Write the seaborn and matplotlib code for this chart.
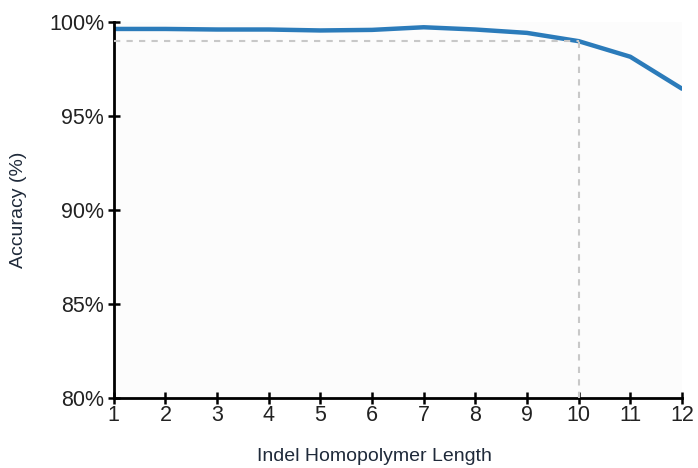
import matplotlib
matplotlib.use('Agg')
import matplotlib.pyplot as plt
import seaborn as sns
import pandas as pd
from matplotlib.ticker import FuncFormatter

# Indel homopolymer length vs accuracy
lengths = [1, 2, 3, 4, 5, 6, 7, 8, 9, 10, 11, 12]
accuracy = [99.63, 99.63, 99.6, 99.6, 99.55, 99.58, 99.72, 99.6, 99.42, 98.98, 98.15, 96.45]
threshold_len = 10
threshold_acc = 99.0

df = pd.DataFrame({'length': lengths, 'accuracy': accuracy})

sns.set_style('white')
plt.rcParams['font.family'] = ['Liberation Sans', 'DejaVu Sans']

fig = plt.figure(figsize=(6.98, 4.68), dpi=100)
ax = fig.add_axes([0.163, 0.150, 0.814, 0.803])
ax.set_facecolor('#fcfcfc')

sns.lineplot(data=df, x='length', y='accuracy', color='#2b7bba', linewidth=3.2, ax=ax)

# reference lines at 99% / length 10
ax.plot([lengths[0], threshold_len], [threshold_acc, threshold_acc], linestyle=(0, (3, 3)),
        color='#c8c8c8', linewidth=1.5, zorder=3)
ax.plot([threshold_len, threshold_len], [80, threshold_acc], linestyle=(0, (3, 3)),
        color='#c8c8c8', linewidth=1.5, zorder=3)

ax.set_xlim(1, 12)
ax.set_ylim(80, 100)
ax.set_xticks(lengths)
ax.set_yticks([80, 85, 90, 95, 100])
ax.yaxis.set_major_formatter(FuncFormatter(lambda v, p: f'{v:.0f}%'))

for s in ['top', 'right']:
    ax.spines[s].set_visible(False)
for s in ['left', 'bottom']:
    ax.spines[s].set_color('black')
    ax.spines[s].set_linewidth(2)

ax.tick_params(axis='both', bottom=True, left=True, direction='inout', length=8, width=1.8,
               color='black', labelcolor='#222222', labelsize=15.5)
ax.tick_params(axis='x', pad=1)
ax.tick_params(axis='y', pad=3)

ax.set_xlabel('Indel Homopolymer Length', fontsize=14, color='#1f2a3a')
ax.set_ylabel('Accuracy (%)', fontsize=14, color='#1f2a3a', labelpad=16)
ax.xaxis.set_label_coords(0.458, -0.133)

plt.savefig('out.png', dpi=100)
